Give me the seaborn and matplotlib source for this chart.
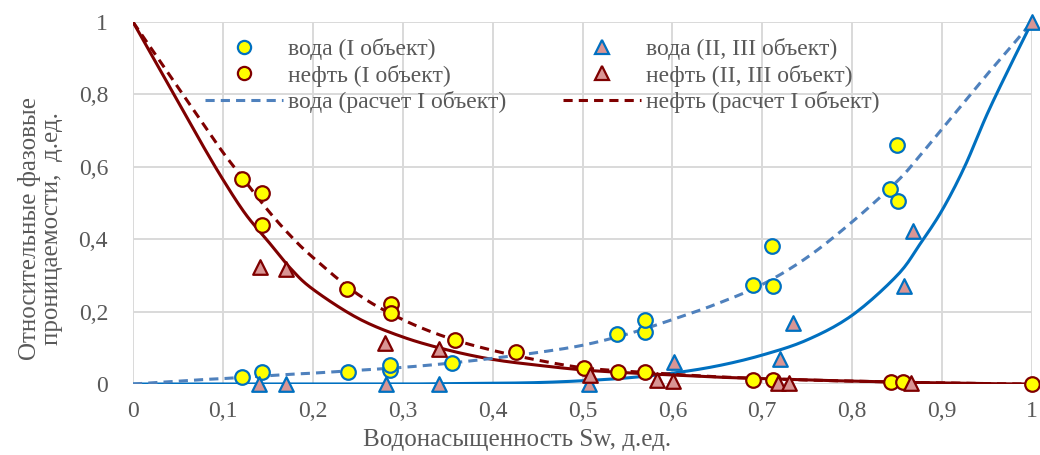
import matplotlib
matplotlib.use("Agg")
import matplotlib.pyplot as plt
import seaborn as sns
import numpy as np
from matplotlib.lines import Line2D

# --- measured relative permeabilities ---
sw_water_1 = [0.121, 0.144, 0.239, 0.286, 0.286, 0.355, 0.538, 0.569, 0.569, 0.690, 0.712, 0.711, 0.842, 0.851, 0.850]
kw_water_1 = [0.020, 0.032, 0.032, 0.039, 0.052, 0.057, 0.137, 0.145, 0.177, 0.273, 0.270, 0.382, 0.540, 0.506, 0.659]

sw_oil_1 = [0.121, 0.144, 0.144, 0.238, 0.287, 0.287, 0.358, 0.426, 0.502, 0.539, 0.569, 0.690, 0.712, 0.843, 0.857, 1.000]
ko_oil_1 = [0.565, 0.527, 0.439, 0.262, 0.221, 0.197, 0.122, 0.089, 0.043, 0.034, 0.034, 0.011, 0.011, 0.006, 0.005, 0.000]

sw_water_23 = [0.140, 0.170, 0.281, 0.340, 0.507, 0.602, 0.720, 0.734, 0.858, 0.868, 1.000]
kw_water_23 = [0.000, 0.000, 0.000, 0.000, 0.000, 0.062, 0.069, 0.168, 0.272, 0.423, 1.000]

sw_oil_23 = [0.141, 0.170, 0.280, 0.340, 0.508, 0.583, 0.601, 0.718, 0.730, 0.865]
ko_oil_23 = [0.324, 0.317, 0.112, 0.097, 0.025, 0.012, 0.009, 0.004, 0.004, 0.003]

# --- model curves ---
sw_curve = [0.0, 0.025, 0.05, 0.075, 0.1, 0.125, 0.15, 0.175, 0.2, 0.25, 0.3, 0.35, 0.4, 0.45, 0.5,
            0.55, 0.6, 0.65, 0.7, 0.75, 0.8, 0.85, 0.875, 0.9, 0.925, 0.95, 0.975, 1.0]
kw_calc = [0.0, 0.004, 0.008, 0.012, 0.015, 0.019, 0.023, 0.027, 0.030, 0.038, 0.046, 0.057, 0.071, 0.087, 0.107,
           0.138, 0.178, 0.222, 0.275, 0.350, 0.448, 0.560, 0.630, 0.705, 0.780, 0.855, 0.927, 1.0]
ko_calc = [1.0, 0.91, 0.82, 0.73, 0.64, 0.56, 0.48, 0.41, 0.35, 0.248, 0.178, 0.128, 0.093, 0.066, 0.045,
           0.035, 0.027, 0.020, 0.015, 0.011, 0.008, 0.005, 0.004, 0.003, 0.002, 0.001, 0.0005, 0.0]
kw_model = [0.0, 0.0, 0.0, 0.0, 0.0, 0.0, 0.0, 0.0, 0.0, 0.0, 0.0, 0.001, 0.002, 0.004, 0.009,
            0.017, 0.030, 0.050, 0.080, 0.122, 0.190, 0.300, 0.385, 0.480, 0.600, 0.745, 0.875, 1.0]
ko_model = [1.0, 0.89, 0.78, 0.67, 0.565, 0.47, 0.395, 0.32, 0.262, 0.182, 0.13, 0.094, 0.068, 0.052, 0.039,
            0.031, 0.025, 0.019, 0.015, 0.011, 0.008, 0.005, 0.004, 0.003, 0.002, 0.001, 0.0005, 0.0]

x_ticks = [0, 0.1, 0.2, 0.3, 0.4, 0.5, 0.6, 0.7, 0.8, 0.9, 1.0]
x_tick_labels = ["0", "0,1", "0,2", "0,3", "0,4", "0,5", "0,6", "0,7", "0,8", "0,9", "1"]
y_ticks = [0, 0.2, 0.4, 0.6, 0.8, 1.0]
y_tick_labels = ["0", "0,2", "0,4", "0,6", "0,8", "1"]


def smooth(xs, ys, n=12):
    """Catmull-Rom path through the given nodes (smoothed line)."""
    p = np.column_stack([xs, ys]).astype(float)
    p = np.vstack([2 * p[0] - p[1], p, 2 * p[-1] - p[-2]])
    out = []
    t = np.linspace(0, 1, n, endpoint=False)[:, None]
    for i in range(1, len(p) - 2):
        p0, p1, p2, p3 = p[i - 1], p[i], p[i + 1], p[i + 2]
        seg = 0.5 * ((2 * p1) + (-p0 + p2) * t + (2 * p0 - 5 * p1 + 4 * p2 - p3) * t ** 2
                     + (-p0 + 3 * p1 - 3 * p2 + p3) * t ** 3)
        out.append(seg)
    out.append(p[-2][None, :])
    out = np.vstack(out)
    return out[:, 0], out[:, 1]


sns.set_theme(style="white")
plt.rcParams["font.family"] = ["Liberation Serif", "DejaVu Serif"]

TEXT = "#595959"
BLUE = "#0070c0"
BLUE_D = "#4f81bd"
RED = "#7f0000"
PINK = "#d99594"
YELLOW = "#ffff00"
FS = 17

fig = plt.figure(figsize=(10.4, 4.55), dpi=100)
ax = fig.add_axes([0.1279, 0.156, 0.8644, 0.7956])

lw = 2.2
dash = (0, (3, 2))
for ys, col, ls in [(kw_model, BLUE, "-"), (ko_model, RED, "-"),
                    (kw_calc, BLUE_D, dash), (ko_calc, RED, dash)]:
    sx, sy = smooth(sw_curve, ys)
    sns.lineplot(x=sx, y=sy, ax=ax, color=col, lw=lw, sort=False, estimator=None,
                 zorder=3, linestyle=ls)

ms = 110
sns.scatterplot(x=sw_water_1, y=kw_water_1, ax=ax, marker="o", s=ms, color=YELLOW,
                edgecolor=BLUE, linewidth=1.6, zorder=4, clip_on=False)
sns.scatterplot(x=sw_oil_1, y=ko_oil_1, ax=ax, marker="o", s=ms, color=YELLOW,
                edgecolor=RED, linewidth=1.6, zorder=4, clip_on=False)
sns.scatterplot(x=sw_water_23, y=kw_water_23, ax=ax, marker="^", s=ms, color=PINK,
                edgecolor=BLUE, linewidth=1.6, zorder=5, clip_on=False)
sns.scatterplot(x=sw_oil_23, y=ko_oil_23, ax=ax, marker="^", s=ms, color=PINK,
                edgecolor=RED, linewidth=1.6, zorder=5, clip_on=False)

ax.set_xlim(0, 1)
ax.set_ylim(0, 1)
ax.set_xticks(x_ticks)
ax.set_xticklabels(x_tick_labels)
ax.set_yticks(y_ticks)
ax.set_yticklabels(y_tick_labels)
ax.tick_params(axis="both", length=0, labelsize=FS, colors=TEXT)
ax.tick_params(axis="x", pad=12)
ax.tick_params(axis="y", pad=18)
ax.grid(True, color="#d9d9d9", lw=1.4, zorder=0)
ax.set_axisbelow(True)
for sp in ax.spines.values():
    sp.set_visible(False)

ax.set_xlabel("Водонасыщенность Sw, д.ед.", fontsize=FS + 1, color=TEXT)
ax.xaxis.set_label_coords(0.427, -0.125)
ax.set_ylabel("Относительные фазовые\nпроницаемости,  д.ед.", fontsize=FS + 1, color=TEXT,
              linespacing=1.0)
ax.yaxis.set_label_coords(-0.078, 0.43)

hms = 9.5
handles = [
    Line2D([], [], ls="none", marker="o", ms=hms, mfc=YELLOW, mec=BLUE, mew=1.6),
    Line2D([], [], ls="none", marker="o", ms=hms, mfc=YELLOW, mec=RED, mew=1.6),
    Line2D([], [], color=BLUE_D, lw=lw, ls=dash),
    Line2D([], [], ls="none", marker="^", ms=hms, mfc=PINK, mec=BLUE, mew=1.6),
    Line2D([], [], ls="none", marker="^", ms=hms, mfc=PINK, mec=RED, mew=1.6),
    Line2D([], [], color=RED, lw=lw, ls=dash),
]
labels = ["вода (I объект)", "нефть (I объект)", "вода (расчет I объект)",
          "вода (II, III объект)", "нефть (II, III объект)", "нефть (расчет I объект)"]
leg = ax.legend(handles, labels, ncol=2, loc="upper left", bbox_to_anchor=(0.070, 0.982),
                frameon=False, fontsize=FS, handlelength=3.3, handletextpad=0.2,
                columnspacing=2.4, labelspacing=0.2, borderaxespad=0)
for t in leg.get_texts():
    t.set_color(TEXT)

fig.savefig("out.png", dpi=100)
